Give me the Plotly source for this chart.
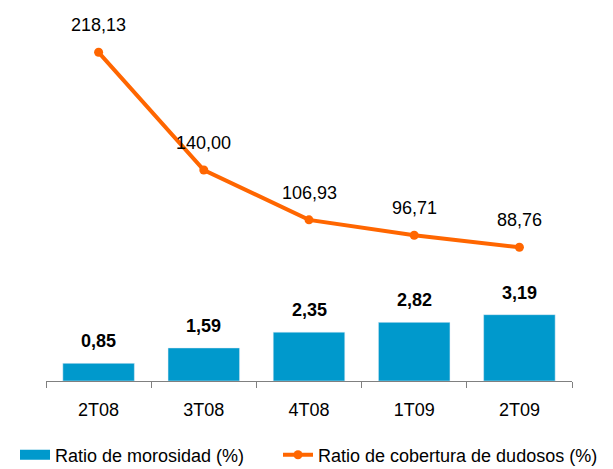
import plotly.graph_objects as go

categories = ["2T08", "3T08", "4T08", "1T09", "2T09"]
morosidad = [0.85, 1.59, 2.35, 2.82, 3.19]
cobertura = [218.13, 140.00, 106.93, 96.71, 88.76]

BLUE = "#0099CC"
ORANGE = "#FF6600"

def fmt(v):
    return f"{v:.2f}".replace(".", ",")

fig = go.Figure()
fig.add_trace(go.Bar(
    x=categories, y=morosidad, name="Ratio de morosidad (%)",
    marker_color=BLUE, width=0.68, yaxis="y2", showlegend=False,
))
# legend-only swatch for the bars (wide rectangle like the reference)
fig.add_trace(go.Scatter(
    x=[None], y=[None], name="Ratio de morosidad (%)", mode="lines",
    line=dict(color=BLUE, width=12), yaxis="y2", legend="legend",
))
fig.add_trace(go.Scatter(
    x=categories, y=cobertura, name="Ratio de cobertura de dudosos (%)",
    mode="lines+markers", line=dict(color=ORANGE, width=4),
    marker=dict(size=9, color=ORANGE), yaxis="y", legend="legend2",
))

annotations = []
for c, v in zip(categories, cobertura):
    annotations.append(dict(x=c, y=v, xref="x", yref="y", text=fmt(v),
                            showarrow=False, yshift=27,
                            font=dict(size=18, color="#000000")))
for c, v in zip(categories, morosidad):
    annotations.append(dict(x=c, y=v, xref="x", yref="y2", text="<b>" + fmt(v) + "</b>",
                            showarrow=False, yshift=22,
                            font=dict(size=18, color="#000000")))

legend_common = dict(orientation="h", xref="container", xanchor="left",
                     y=1 - 455 / 469, yref="container", yanchor="middle",
                     font=dict(size=18), itemwidth=30, bgcolor="rgba(0,0,0,0)")

fig.update_layout(
    width=613, height=469,
    margin=dict(l=46, r=41, t=10, b=88, autoexpand=False),
    plot_bgcolor="white", paper_bgcolor="white",
    font=dict(family="Liberation Sans, Arial, sans-serif", size=18, color="#000000"),
    showlegend=True,
    legend=dict(x=15 / 613, **legend_common),
    legend2=dict(x=278 / 613, **legend_common),
    xaxis=dict(showline=True, linecolor="#808080", linewidth=1,
               ticks="outside", tickson="boundaries", ticklen=6, tickcolor="#808080",
               showgrid=False, tickfont=dict(size=18), ticklabelstandoff=12),
    yaxis=dict(range=[0, 246.2], visible=False, showgrid=False),
    yaxis2=dict(range=[0, 17.84], visible=False, showgrid=False,
                overlaying="y", side="right"),
    annotations=annotations,
)

fig.write_html("out.html", config={"displayModeBar": False},
               post_script="document.body.style.margin='0px';")
